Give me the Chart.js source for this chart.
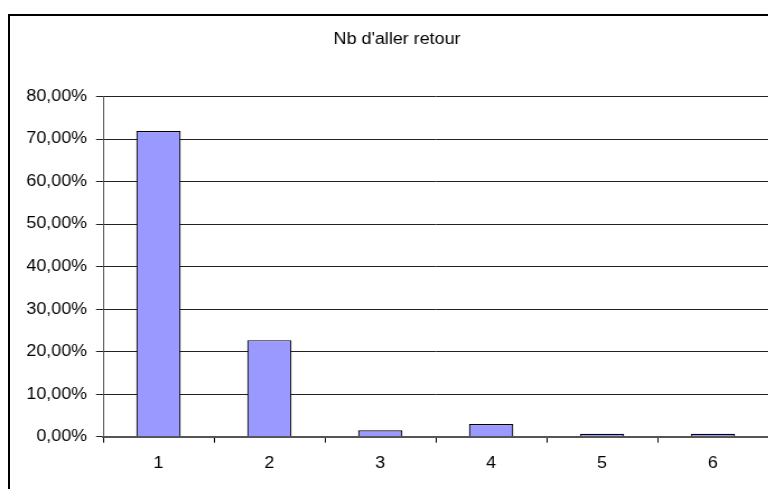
<!DOCTYPE html>
<html>
<head>
<meta charset="utf-8">
<script src="https://cdn.jsdelivr.net/npm/chart.js@4/dist/chart.umd.min.js"></script>
<style>
  html, body { margin: 0; padding: 0; background: #fff; overflow: hidden; }
  body { width: 768px; height: 489px; position: relative; }
  /* cadre du graphique (coupé à droite et en bas) */
  #cadre {
    position: absolute; left: 8px; top: 14px;
    width: 800px; height: 520px;
    border: 2px solid #000;
    box-sizing: border-box;
  }
  /* le graphique d'origine est étiré horizontalement */
  #zone {
    position: absolute; left: 0; top: 0;
    width: 686px; height: 489px;
    transform: scale(1.12, 1);
    transform-origin: 0 0;
  }
</style>
</head>
<body>
<div id="cadre"></div>
<div id="zone"><canvas id="graph" width="686" height="489"></canvas></div>
<script>
/* ===== Données ===== */
const TITRE = "Nb d'aller retour";
const categories = ["1", "2", "3", "4", "5", "6"];
const pourcentages = [71.9, 22.7, 1.5, 3.0, 0.7, 0.7];
const Y_MAX = 80;
const Y_PAS = 10;

const POLICE = "'Liberation Sans', Arial, sans-serif";

const fmtPct = v => v.toFixed(2).replace(".", ",") + "%";

const ctx = document.getElementById("graph").getContext("2d");

new Chart(ctx, {
  type: "bar",
  data: {
    labels: categories,
    datasets: [{
      label: TITRE,
      data: pourcentages,
      backgroundColor: "#9999ff",
      borderColor: "#000",
      borderWidth: 1.2,
      categoryPercentage: 1,
      barPercentage: 0.4,
    }],
  },
  options: {
    responsive: false,
    animation: false,
    layout: { padding: { left: 23, right: 0, top: 0, bottom: 0 } },
    plugins: {
      legend: { display: false },
      tooltip: { enabled: false },
      title: {
        display: true,
        text: TITRE,
        color: "#000",
        font: { family: POLICE, size: 16, weight: "normal", lineHeight: 1.2 },
        padding: { top: 30.4, bottom: 46.9 },
      },
    },
    scales: {
      x: {
        grid: { drawOnChartArea: false, drawTicks: true, tickLength: 6, color: "#000" },
        border: { color: "#555", width: 2 },
        ticks: { color: "#000", padding: 11, font: { family: POLICE, size: 16 } },
        afterFit: axe => { axe.height = 52.3; },
      },
      y: {
        min: 0,
        max: Y_MAX,
        grid: { color: "#222", lineWidth: 1, drawTicks: true, tickLength: 6.25 },
        border: { color: "#555", width: 1 },
        ticks: {
          stepSize: Y_PAS,
          color: "#000",
          padding: 8,
          font: { family: POLICE, size: 16 },
          callback: v => fmtPct(v),
        },
        afterFit: axe => { axe.width = 69; },
      },
    },
  },
});
</script>
</body>
</html>
